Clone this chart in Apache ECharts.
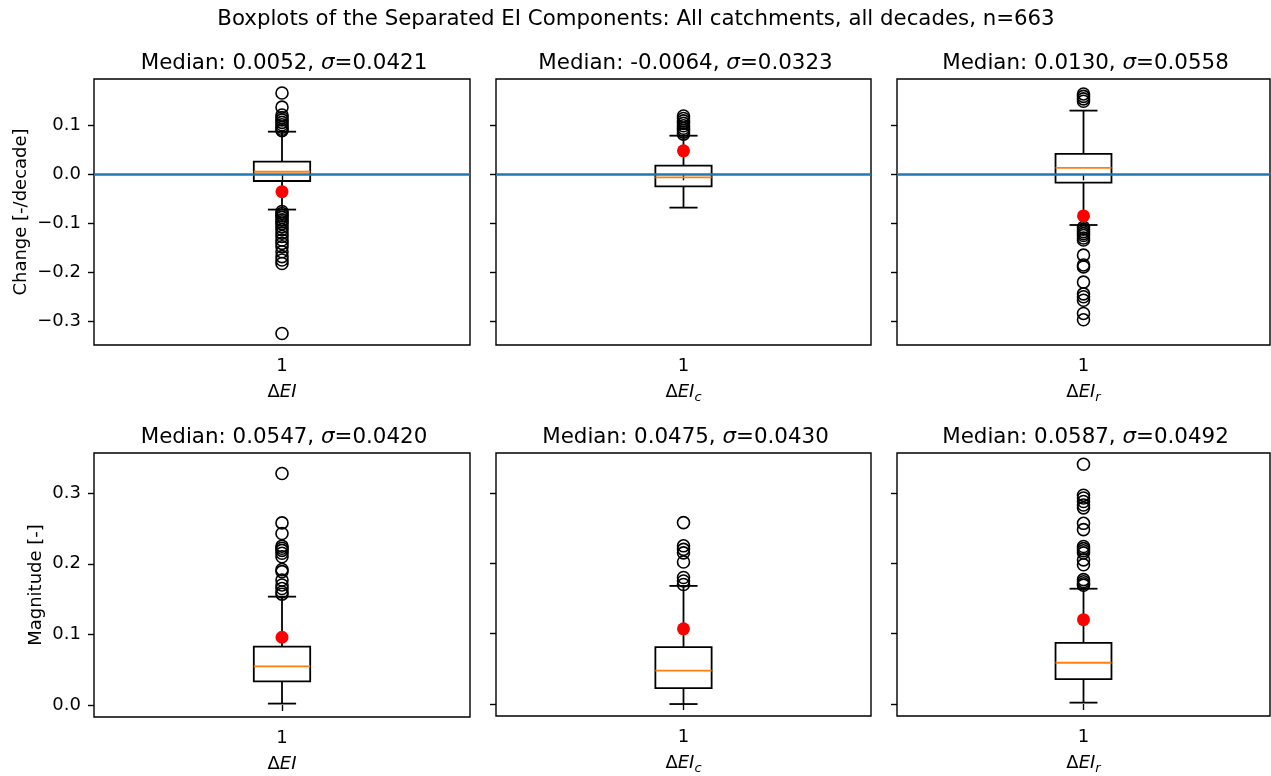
<!DOCTYPE html>
<html>
<head>
<meta charset="utf-8">
<script src="https://cdn.jsdelivr.net/npm/echarts@6/dist/echarts.min.js"></script>
<style>
  html, body { margin: 0; padding: 0; background: #fff; }
  #chart { width: 1271px; height: 776px; }
</style>
</head>
<body>
<div id="chart"></div>
<script>
// ---------------- data ----------------
const suptitle = 'Boxplots of the Separated EI Components: All catchments, all decades, n=663';
const xCategory = ['1'];
const componentSubscripts = ['', 'c', 'r'];
const changeYLabel = 'Change [-/decade]';
const magYLabel = 'Magnitude [-]';

const changeMedianText = ['0.0052', '-0.0064', '0.0130'];
const changeSigmaText = ['0.0421', '0.0323', '0.0558'];
const magMedianText = ['0.0547', '0.0475', '0.0587'];
const magSigmaText = ['0.0420', '0.0430', '0.0492'];

// [lower whisker, Q1, median, Q3, upper whisker]
const changeBox = [
  [-0.072, -0.0137, 0.0052, 0.0257, 0.087],
  [-0.068, -0.0245, -0.0064, 0.0176, 0.0788],
  [-0.1035, -0.017, 0.0130, 0.0415, 0.130]
];
const magBox = [
  [0.002, 0.0335, 0.0547, 0.0827, 0.1535],
  [0.000, 0.0227, 0.0475, 0.081, 0.168],
  [0.002, 0.0354, 0.0587, 0.0869, 0.164]
];

const changeOutliers = [
  [0.166, 0.137, 0.121, 0.116, 0.111, 0.106, 0.101, 0.096, 0.092, 0.089,
   -0.076, -0.080, -0.084, -0.088, -0.093, -0.097, -0.101, -0.107, -0.113, -0.120,
   -0.127, -0.134, -0.141, -0.148, -0.158, -0.168, -0.175, -0.182, -0.325],
  [0.082, 0.086, 0.090, 0.094, 0.099, 0.104, 0.109, 0.114, 0.119],
  [0.149, 0.154, 0.159, 0.164,
   -0.108, -0.112, -0.117, -0.121, -0.125, -0.130, -0.134, -0.165, -0.185, -0.189,
   -0.220, -0.244, -0.250, -0.257, -0.284, -0.297]
];
const magOutliers = [
  [0.157, 0.160, 0.165, 0.170, 0.177, 0.189, 0.192, 0.210, 0.215, 0.219, 0.222, 0.225, 0.243, 0.258, 0.328],
  [0.170, 0.175, 0.180, 0.202, 0.215, 0.220, 0.225, 0.258],
  [0.169, 0.171, 0.174, 0.177, 0.198, 0.205, 0.215, 0.218, 0.221, 0.224, 0.248, 0.257,
   0.279, 0.283, 0.288, 0.293, 0.297, 0.341]
];

const changeMarker = [-0.0355, 0.048, -0.085];
const magMarker = [0.096, 0.107, 0.120];

const changeTicks = [-0.3, -0.2, -0.1, 0.0, 0.1];
const magTicks = [0.0, 0.1, 0.2, 0.3];
const changeRange = [-0.3484, 0.1945];
const magRange = [-0.017, 0.357];
const zeroLine = [0];

// ---------------- layout ----------------
const FONT = 'DejaVu Sans';
const colLeft = [94, 496, 897];
const colWidth = [376, 375, 373];
const rowTop = [79, 453];
const rowHeight = [266, 264];

function fmtTick(v) {
  const s = Math.abs(v).toFixed(1);
  return (v < -1e-9 ? '\u2212' : '') + s;
}

function renderBox(params, api) {
  const x = api.value(0);
  const lo = api.coord([x, api.value(1)]);
  const q1 = api.coord([x, api.value(2)]);
  const md = api.coord([x, api.value(3)]);
  const q3 = api.coord([x, api.value(4)]);
  const hi = api.coord([x, api.value(5)]);
  const bw = api.size([1, 0])[0] * 0.15;
  const cx = lo[0];
  const st = { stroke: '#000', lineWidth: 1.8, fill: null };
  return {
    type: 'group',
    children: [
      { type: 'line', shape: { x1: cx, y1: q1[1], x2: cx, y2: lo[1] }, style: st },
      { type: 'line', shape: { x1: cx, y1: q3[1], x2: cx, y2: hi[1] }, style: st },
      { type: 'line', shape: { x1: cx - bw / 4, y1: lo[1], x2: cx + bw / 4, y2: lo[1] }, style: st },
      { type: 'line', shape: { x1: cx - bw / 4, y1: hi[1], x2: cx + bw / 4, y2: hi[1] }, style: st },
      { type: 'rect', shape: { x: cx - bw / 2, y: q3[1], width: bw, height: q1[1] - q3[1] },
        style: { stroke: '#000', lineWidth: 1.8, fill: 'rgba(0,0,0,0)' } },
      { type: 'line', shape: { x1: cx - bw / 2, y1: md[1], x2: cx + bw / 2, y2: md[1] },
        style: { stroke: '#ff7f0e', lineWidth: 1.8 } }
    ]
  };
}

const grids = [], xAxes = [], yAxes = [], series = [], titles = [];

titles.push({
  text: suptitle, left: 631, top: 4, textAlign: 'center',
  textStyle: { fontFamily: FONT, fontSize: 21.3, fontWeight: 'normal', color: '#000' }
});

for (let r = 0; r < 2; r++) {
  for (let c = 0; c < 3; c++) {
    const idx = r * 3 + c;
    const isChange = r === 0;
    const box = isChange ? changeBox[c] : magBox[c];
    const outl = isChange ? changeOutliers[c] : magOutliers[c];
    const mark = isChange ? changeMarker[c] : magMarker[c];
    const medT = isChange ? changeMedianText[c] : magMedianText[c];
    const sigT = isChange ? changeSigmaText[c] : magSigmaText[c];
    const range = isChange ? changeRange : magRange;
    const ticks = isChange ? changeTicks : magTicks;

    grids.push({
      left: colLeft[c], top: rowTop[r], width: colWidth[c], height: rowHeight[r],
      show: true, borderColor: '#000', borderWidth: 1.4, backgroundColor: 'transparent'
    });

    titles.push({
      text: '{n|Median: ' + medT + ', }{g|\u03c3}{n|=' + sigT + '}',
      left: colLeft[c] + colWidth[c] / 2 - 3, top: rowTop[r] - 31, textAlign: 'center',
      textStyle: {
        fontWeight: 'normal', fontFamily: FONT, fontSize: 21.4, color: '#000',
        rich: {
          n: { fontFamily: FONT, fontSize: 21.4, color: '#000', fontWeight: 'normal' },
          g: { fontFamily: FONT, fontSize: 21.4, color: '#000', fontStyle: 'italic', fontWeight: 'normal' }
        }
      }
    });

    const sub = componentSubscripts[c];
    xAxes.push({
      type: 'category', gridIndex: idx, data: xCategory, boundaryGap: true,
      axisLine: { show: false },
      axisTick: { show: true, alignWithLabel: true, length: 6, lineStyle: { color: '#000', width: 1.4 } },
      axisLabel: { show: true, fontFamily: FONT, fontSize: 18, color: '#000', margin: 12 },
      splitLine: { show: false },
      name: sub ? '{d|\u0394}{e|EI}{s|' + sub + '}' : '{d|\u0394}{e|EI}',
      nameLocation: 'middle', nameGap: 35,
      nameTextStyle: {
        rich: {
          d: { fontFamily: FONT, fontSize: 18, color: '#000', lineHeight: 24, verticalAlign: 'middle' },
          e: { fontFamily: FONT, fontSize: 18, color: '#000', fontStyle: 'italic', lineHeight: 24, verticalAlign: 'middle' },
          s: { fontFamily: FONT, fontSize: 13, color: '#000', fontStyle: 'italic', lineHeight: 13, verticalAlign: 'bottom' }
        }
      }
    });

    yAxes.push({
      type: 'value', gridIndex: idx, min: range[0], max: range[1],
      axisLine: { show: false },
      splitLine: { show: false },
      axisTick: { show: true, length: 6, customValues: ticks, lineStyle: { color: '#000', width: 1.4 } },
      axisLabel: {
        show: c === 0, customValues: ticks, formatter: fmtTick,
        fontFamily: FONT, fontSize: 18, color: '#000', margin: 13
      },
      name: c === 0 ? (isChange ? changeYLabel : magYLabel) : '',
      nameLocation: 'middle', nameGap: isChange ? 64 : 49,
      nameTextStyle: { fontFamily: FONT, fontSize: 18, color: '#000' }
    });

    series.push({
      type: 'custom', xAxisIndex: idx, yAxisIndex: idx,
      renderItem: renderBox,
      encode: { x: 0, y: [1, 2, 3, 4, 5] },
      data: [[0].concat(box)],
      silent: true, z: 2
    });

    series.push({
      type: 'scatter', xAxisIndex: idx, yAxisIndex: idx,
      symbol: 'circle', symbolSize: 12,
      itemStyle: { color: 'rgba(0,0,0,0)', borderColor: '#000', borderWidth: 1.6, opacity: 1 },
      data: outl.map(v => [0, v]),
      silent: true, z: 3
    });

    if (isChange) {
      series.push({
        type: 'line', xAxisIndex: idx, yAxisIndex: idx, data: [],
        markLine: {
          silent: true, symbol: ['none', 'none'], animation: false,
          label: { show: false },
          lineStyle: { color: '#1f77b4', width: 2.7, type: 'solid', opacity: 1 },
          data: zeroLine.map(v => ({ yAxis: v }))
        },
        z: 4
      });
    }

    series.push({
      type: 'scatter', xAxisIndex: idx, yAxisIndex: idx,
      symbol: 'circle', symbolSize: 13,
      itemStyle: { color: '#ff0000', opacity: 1 },
      data: [[0, mark]],
      silent: true, z: 5
    });
  }
}

const chart = echarts.init(document.getElementById('chart'), null, { renderer: 'canvas' });
chart.setOption({
  animation: false,
  backgroundColor: '#fff',
  title: titles,
  grid: grids,
  xAxis: xAxes,
  yAxis: yAxes,
  series: series
});
</script>
</body>
</html>
